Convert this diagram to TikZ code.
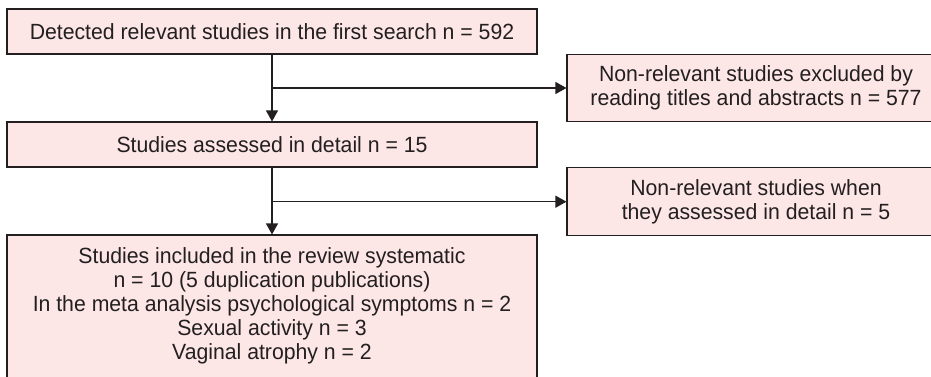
\documentclass[tikz,border=0pt]{standalone}
\usepackage{fontspec}
\setmainfont[FakeStretch=0.965]{Liberation Sans}
\usetikzlibrary{arrows.meta}
\definecolor{boxfill}{RGB}{252,230,230}
\definecolor{ink}{RGB}{35,31,32}
\begin{document}
\begin{tikzpicture}[x=1pt,y=-1pt,
  box/.style={draw=ink,fill=boxfill,line width=1.1pt,rectangle,inner sep=0pt,
    text=ink,align=center,font=\fontsize{22}{24}\selectfont},
  conn/.style={draw=ink,line width=1.2pt},
  arr/.style={conn,-{Triangle[length=11pt,width=12pt]}}]
\useasboundingbox (0,0) rectangle (931,377);
\clip (0,0) rectangle (931,377);
\node[box,minimum width=530pt,minimum height=45pt] (b1) at (272,31.5)
  {Detected relevant studies in the first search n = 592};
\node[box,minimum width=378pt,minimum height=67.5pt] (b2) at (756,88)
  {Non-relevant studies excluded by\\reading titles and abstracts n = 577};
\node[box,minimum width=530pt,minimum height=45pt] (b3) at (272,144.5)
  {Studies assessed in detail n = 15};
\node[box,minimum width=378pt,minimum height=68pt] (b4) at (756,201.7)
  {Non-relevant studies when\\they assessed in detail n = 5};
\node[box,minimum width=530pt,minimum height=170pt] (b5) at (272,320) {};
\node[text=ink,align=center,font=\fontsize{22}{24}\selectfont,inner sep=0pt] (t5) at (272,305.5)
  {Studies included in the review systematic\\n = 10 (5 duplication publications)\\In the meta analysis psychological symptoms n = 2\\Sexual activity n = 3\\Vaginal atrophy n = 2};
\coordinate (j1) at (b1.south |- b2.west);
\coordinate (j2) at (b3.south |- b4.west);
\draw[arr] (b1.south) -- (b3.north);
\draw[arr] (j1) -- (b2.west);
\draw[arr] (b3.south) -- (b5.north);
\draw[arr] (j2) -- (b4.west);
\end{tikzpicture}
\end{document}
